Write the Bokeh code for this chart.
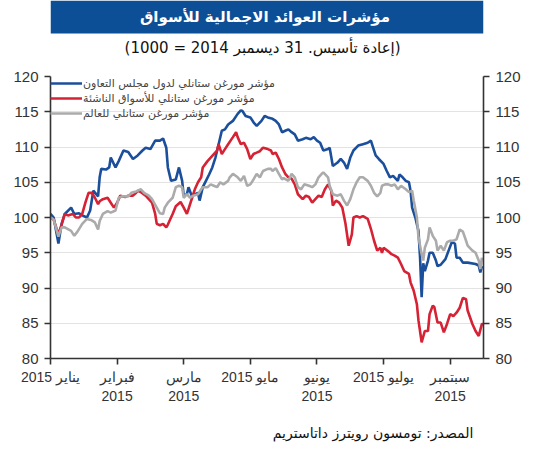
from bokeh.plotting import figure
from bokeh.layouts import column
from bokeh.models import (Range1d, LinearAxis, FixedTicker, Legend, LegendItem,
                          ColumnDataSource)
from bokeh.core.properties import value
from bokeh.embed import file_html
from bokeh.resources import INLINE

# ---------------- data (days since 1 Jan 2015) ----------------
title_text = "مؤشرات العوائد الاجمالية للأسواق"
subtitle_text = "(إعادة تأسيس. 31 ديسمبر 2014 = 1000)"
source_text = "المصدر: تومسون رويترز داتاستريم"

series_names = ["مؤشر مورغن ستانلي لدول مجلس التعاون",
                "مؤشر مورغن ستانلي للأسواق الناشئة",
                "مؤشر مورغن ستانلي للعالم"]

tick_days = [0, 42, 84, 126, 168, 210, 252]
tick_labels = ["2015 يناير", "فبراير\n2015", "مارس\n2015", "2015 مايو",
               "يونيو\n2015", "2015 يوليو", "سبتمبر\n2015"]
y_ticks = [80, 85, 90, 95, 100, 105, 110, 115, 120]

gcc_day = [0, 2, 5, 7, 9, 13, 15, 18, 20, 23, 25, 27, 30, 31, 32, 35, 37, 38, 41, 43,
           46, 49, 52, 55, 58, 60, 63, 66, 69, 71, 73, 74, 76, 79, 81, 83, 84, 86, 87, 89,
           93, 94, 96, 98, 100, 102, 104, 106, 108, 110, 112, 115, 118, 120, 121, 123, 126, 128, 130, 133,
           135, 137, 140, 142, 144, 146, 148, 150, 152, 154, 156, 159, 161, 164, 166, 168, 170, 172, 175, 176,
           178, 181, 183, 185, 187, 189, 191, 194, 197, 200, 202, 203, 205, 207, 210, 212, 214, 216, 219, 220,
           222, 224, 226, 227, 228, 230, 232, 233, 234, 235, 236, 238, 239, 241, 243, 244, 246, 249, 251, 253,
           255, 256, 258, 260, 263, 268, 270, 271, 272]
gcc = [100.5, 100.0, 96.3, 99.1, 100.5, 101.4, 100.5, 100.6, 100.3, 100.0, 101.0, 103.8, 103.0, 105.7, 106.9, 106.8, 107.1, 108.5, 107.1, 108.0,
       109.5, 109.3, 108.3, 108.8, 109.5, 109.9, 109.7, 110.9, 110.9, 111.2, 109.9, 107.1, 105.2, 105.4, 107.1, 105.2, 103.1, 103.3, 104.3, 103.1,
       103.5, 102.4, 104.3, 105.2, 106.1, 107.1, 108.5, 110.4, 112.3, 112.5, 113.2, 113.7, 114.7, 115.2, 115.1, 114.4, 114.2, 113.5, 113.0, 113.7,
       114.4, 114.2, 114.0, 113.7, 113.2, 112.1, 112.3, 112.5, 112.1, 111.8, 110.9, 111.1, 111.3, 111.1, 111.4, 110.9, 110.6, 109.5, 109.7, 109.9,
       107.3, 107.8, 108.3, 107.8, 106.9, 108.5, 109.5, 110.2, 110.4, 110.6, 110.9, 110.2, 108.8, 108.3, 107.6, 106.6, 105.7, 105.9, 105.2, 106.1,
       105.7, 105.2, 105.0, 103.8, 101.4, 100.0, 98.1, 94.3, 88.7, 93.5, 92.4, 93.9, 95.0, 95.0, 93.9, 93.1, 93.3, 94.1, 95.3, 96.5,
       96.3, 94.3, 94.3, 93.6, 93.6, 93.4, 93.2, 92.2, 93.1]

em_day = [0, 2, 5, 7, 9, 11, 14, 16, 18, 20, 22, 24, 26, 28, 30, 31, 33, 36, 38, 40,
          42, 44, 47, 49, 52, 54, 55, 57, 60, 62, 64, 66, 67, 69, 71, 73, 74, 77, 79, 82,
          84, 86, 87, 90, 91, 93, 95, 96, 99, 101, 103, 105, 106, 108, 110, 112, 115, 117, 118, 120,
          122, 124, 126, 128, 130, 132, 134, 137, 139, 140, 142, 144, 146, 148, 150, 152, 154, 156, 159, 161,
          163, 165, 167, 169, 171, 173, 175, 177, 178, 180, 182, 184, 186, 188, 190, 191, 193, 195, 197, 200,
          202, 204, 206, 208, 209, 210, 213, 215, 217, 219, 221, 223, 226, 227, 229, 231, 232, 234, 236, 238,
          239, 241, 242, 244, 246, 248, 250, 252, 254, 256, 258, 260, 262, 263, 266, 268, 270, 272, 273]
em = [100.0, 99.7, 97.6, 99.0, 100.5, 100.3, 100.5, 100.0, 100.0, 100.5, 102.1, 103.5, 103.5, 102.8, 101.9, 102.3, 102.6, 102.8, 102.1, 101.4,
      102.1, 103.1, 102.9, 103.1, 103.1, 103.5, 103.8, 103.6, 103.1, 102.6, 102.1, 100.5, 99.1, 98.9, 99.1, 98.6, 99.0, 100.5, 101.6, 102.2,
      101.4, 100.5, 101.2, 103.3, 104.0, 105.0, 105.7, 107.1, 108.0, 108.5, 109.0, 109.5, 110.4, 109.0, 109.7, 110.4, 111.4, 112.1, 111.4, 110.4,
      110.6, 109.7, 108.3, 109.0, 109.2, 109.4, 109.9, 109.7, 109.5, 109.0, 109.2, 108.3, 107.1, 106.2, 105.7, 105.5, 104.7, 103.3, 102.6, 103.1,
      102.9, 102.1, 102.6, 103.1, 102.9, 104.0, 104.7, 103.8, 101.7, 102.4, 102.1, 101.4, 99.1, 96.0, 97.6, 100.0, 100.2, 100.0, 100.2, 99.8,
      98.4, 96.7, 95.3, 95.7, 95.0, 95.7, 95.2, 94.8, 94.6, 94.3, 93.4, 92.4, 92.0, 90.8, 89.6, 87.7, 85.4, 82.3, 83.9, 83.9,
      86.3, 87.5, 87.3, 85.1, 85.1, 83.7, 84.9, 86.3, 86.0, 86.5, 87.2, 88.6, 88.4, 86.8, 84.9, 83.9, 83.2, 84.9, 84.9]

world_day = [0, 2, 5, 7, 9, 13, 15, 17, 20, 23, 26, 28, 30, 31, 33, 36, 38, 41, 43, 45,
             49, 51, 54, 57, 59, 62, 64, 67, 69, 71, 72, 74, 77, 79, 81, 83, 84, 86, 88, 90,
             93, 95, 96, 99, 101, 103, 105, 107, 109, 112, 113, 115, 118, 120, 122, 124, 126, 128, 130, 132,
             134, 137, 139, 140, 142, 144, 146, 147, 150, 152, 154, 156, 158, 160, 163, 165, 167, 169, 171, 172,
             175, 176, 178, 181, 183, 185, 187, 189, 191, 193, 195, 197, 200, 202, 204, 206, 208, 209, 211, 213,
             215, 217, 219, 221, 224, 226, 228, 229, 231, 232, 234, 235, 236, 238, 239, 241, 243, 244, 246, 248,
             250, 252, 254, 256, 258, 260, 262, 263, 266, 268, 270, 271, 272]
world = [100.0, 99.7, 97.3, 98.6, 98.6, 98.1, 97.4, 98.0, 99.1, 99.8, 99.6, 99.3, 98.3, 99.5, 100.5, 100.9, 100.7, 101.0, 102.8, 103.0,
         103.0, 103.5, 103.7, 104.0, 103.5, 103.1, 102.6, 101.4, 100.6, 100.5, 101.4, 102.1, 102.8, 104.3, 104.5, 104.3, 102.8, 103.3, 102.8, 103.1,
         103.3, 104.0, 104.3, 104.3, 104.7, 104.5, 104.3, 105.0, 104.7, 105.2, 105.7, 106.2, 105.7, 105.2, 105.9, 104.5, 104.7, 105.4, 106.2, 105.7,
         106.6, 106.9, 106.9, 106.6, 107.0, 106.2, 105.4, 105.6, 105.2, 106.2, 105.7, 104.3, 104.0, 104.7, 104.5, 104.3, 104.7, 105.7, 106.2, 106.4,
         105.7, 104.5, 103.3, 103.1, 103.3, 102.4, 101.7, 102.6, 104.0, 105.0, 105.7, 105.7, 105.2, 104.5, 103.5, 103.0, 103.5, 104.5, 104.7, 104.7,
         104.5, 104.7, 104.0, 104.5, 104.0, 103.6, 103.8, 102.4, 100.0, 97.2, 94.8, 93.9, 95.7, 96.9, 98.6, 97.4, 96.7, 95.3, 96.0, 95.3,
         96.5, 96.7, 96.7, 96.9, 98.3, 98.0, 96.7, 96.0, 95.3, 95.0, 93.9, 92.7, 94.3]

# ---------------- styling ----------------
NUM_FONT = "Liberation Sans"
AR_FONT = "DejaVu Sans"
AXIS_COLOR = "#333333"
W = 537


def blank_figure(h, y_top):
    f = figure(width=W, height=h, output_backend="svg", toolbar_location=None,
               x_range=Range1d(0, W), y_range=Range1d(0, y_top),
               x_axis_type=None, y_axis_type=None, min_border=0)
    f.outline_line_color = None
    f.grid.grid_line_color = None
    f.background_fill_color = "white"
    f.border_fill_color = "white"
    return f


# header (title bar + subtitle)
header = blank_figure(60, 60)
header.quad(left=[0], right=[W], bottom=[27], top=[60], fill_color="#0c4f96", line_color=None)
header.text(x=[266], y=[43.5], text=[title_text], text_align="center", text_baseline="middle",
            text_color="white", text_font=value(AR_FONT), text_font_style="bold",
            text_font_size="15px")
header.text(x=[263], y=[13], text=[subtitle_text], text_align="center", text_baseline="middle",
            text_color="#111111", text_font=value(AR_FONT), text_font_size="15px")

# main chart
p = figure(width=W, height=350, output_backend="svg", toolbar_location=None,
           x_range=Range1d(0, 273), y_range=Range1d(80, 120),
           min_border_left=50, min_border_right=54, min_border_top=16, min_border_bottom=52)
p.outline_line_color = None
p.background_fill_color = "white"
p.border_fill_color = "white"
p.xgrid.grid_line_color = None
p.ygrid.grid_line_color = "#e3e3e3"
p.ygrid.grid_line_width = 1

p.yaxis.ticker = FixedTicker(ticks=y_ticks)
p.xaxis.ticker = FixedTicker(ticks=tick_days)
p.xaxis.major_label_overrides = {d: t for d, t in zip(tick_days, tick_labels)}

right_axis = LinearAxis(ticker=FixedTicker(ticks=y_ticks))
p.add_layout(right_axis, "right")

for ax in [p.xaxis[0], p.yaxis[0], right_axis]:
    ax.axis_line_color = AXIS_COLOR
    ax.axis_line_width = 1.6
    ax.major_tick_line_color = AXIS_COLOR
    ax.major_tick_line_width = 1.6
    ax.major_tick_in = 0
    ax.major_tick_out = 6
    ax.minor_tick_line_color = None
    ax.major_label_text_color = "#333333"
    ax.major_label_text_font = NUM_FONT

for ax in [p.yaxis[0], right_axis]:
    ax.major_label_text_font_size = "15px"
    ax.major_label_standoff = 6
p.xaxis.major_label_text_font_size = "14px"
p.xaxis.major_label_standoff = 4

r_gcc = p.line(x="d", y="v", source=ColumnDataSource(dict(d=gcc_day, v=gcc)),
               line_color="#1b4f9b", line_width=2.6)
r_em = p.line(x="d", y="v", source=ColumnDataSource(dict(d=em_day, v=em)),
              line_color="#d52234", line_width=2.6)
r_world = p.line(x="d", y="v", source=ColumnDataSource(dict(d=world_day, v=world)),
                 line_color="#ababab", line_width=2.6)

legend = Legend(items=[LegendItem(label=series_names[0], renderers=[r_gcc]),
                       LegendItem(label=series_names[1], renderers=[r_em]),
                       LegendItem(label=series_names[2], renderers=[r_world])],
                location="top_left", margin=0, padding=0, spacing=1,
                glyph_width=32, glyph_height=14, label_height=14, label_standoff=1,
                label_text_font=AR_FONT, label_text_font_size="11px",
                label_text_color="#444444", background_fill_alpha=0,
                border_line_alpha=0)
p.add_layout(legend)

# footer (source)
footer = blank_figure(40, 40)
footer.text(x=[400], y=[18], text=[source_text], text_align="center", text_baseline="middle",
            text_color="#111111", text_font=value(AR_FONT), text_font_size="14px")

layout = column(header, p, footer, spacing=0)
open("out.html", "w").write(file_html(layout, INLINE))
